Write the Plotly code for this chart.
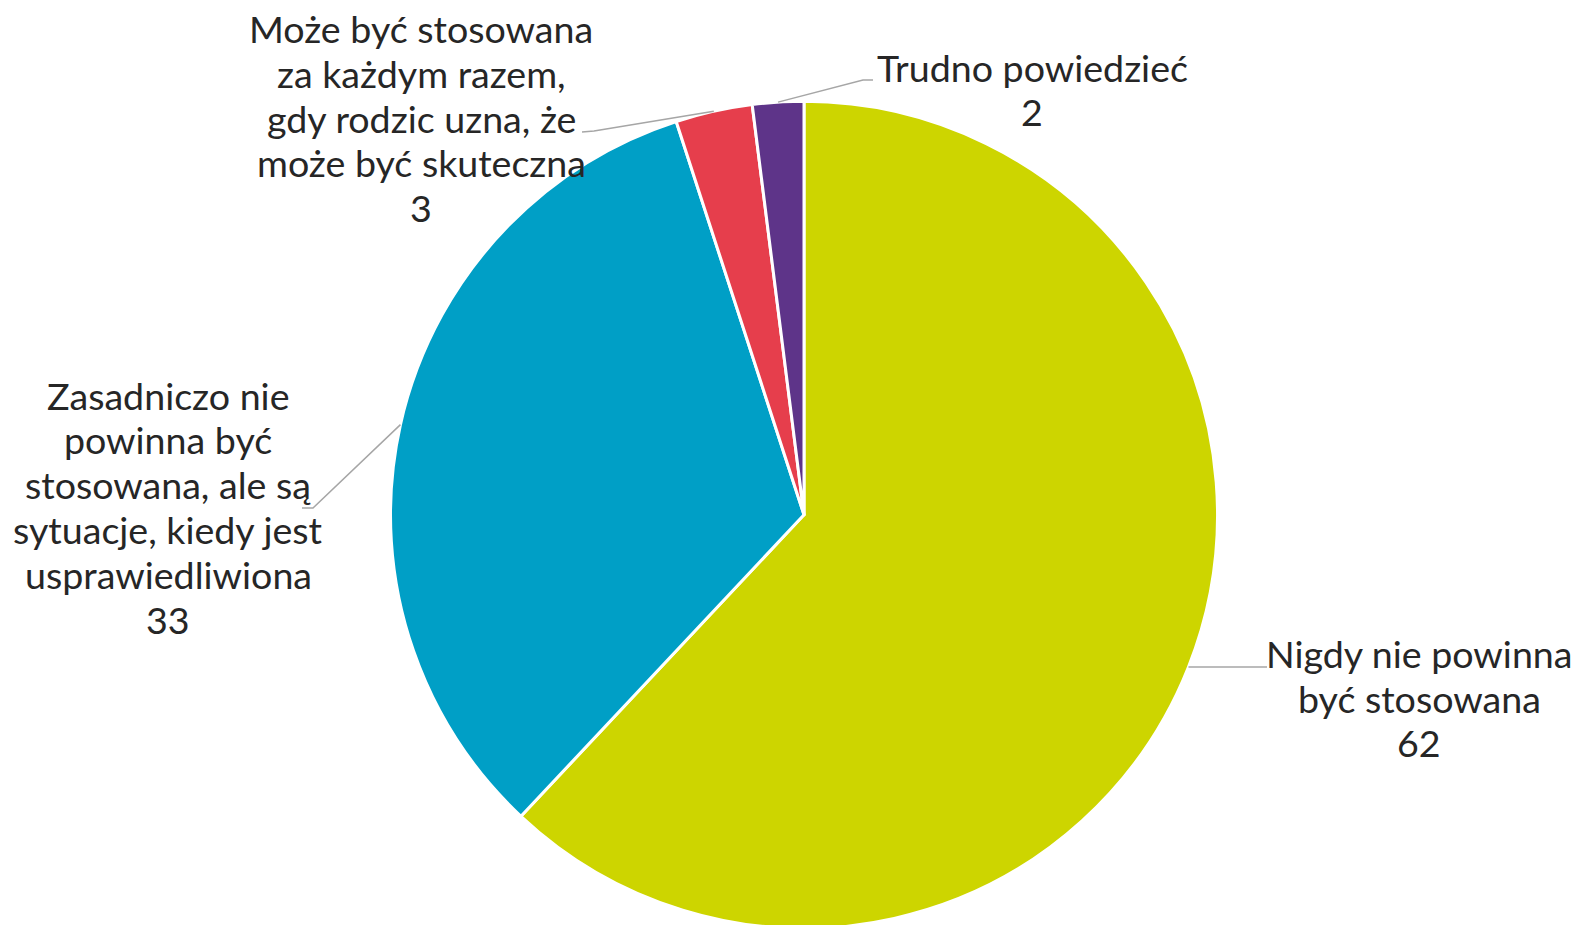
import math
import plotly.graph_objects as go

# ---- data ----
categories = [
    ["Nigdy nie powinna", "być stosowana"],
    ["Zasadniczo nie", "powinna być", "stosowana, ale są",
     "sytuacje, kiedy jest", "usprawiedliwiona"],
    ["Może być stosowana", "za każdym razem,", "gdy rodzic uzna, że",
     "może być skuteczna"],
    ["Trudno powiedzieć"],
]
values = [62, 33, 3, 2]
colors = ["#CDD500", "#009FC6", "#E63E4C", "#5E3489"]

# ---- layout constants (pixels) ----
W, H = 1578, 930          # page is slightly taller than the 925 px window
CX, CY, R = 804.0, 514.8, 413.5
LINE_H = 44.8
FONT_SIZE = 37.6
# label block centres and leader-line elbows (pixels)
label_pos = [(1419, 698), (168, 507), (421, 118), (1032, 89.5)]
elbows = [[(1267, 667), (1267, 667)],
          [(313, 508), (302, 508)],
          [(594, 131), (582, 132)],
          [(863, 80), (873, 80)]]

def px(x):
    return x / W

def py(y):
    return 1 - y / H

def clamp(v):
    return min(1.0, max(0.0, v))

fig = go.Figure()
fig.add_trace(go.Pie(
    labels=[" ".join(c) for c in categories],
    values=values,
    sort=False,
    direction="clockwise",
    rotation=0,
    marker=dict(colors=colors, line=dict(color="white", width=3)),
    textinfo="none",
    hoverinfo="label+value",
    showlegend=False,
    domain=dict(x=[clamp(px(CX - R)), clamp(px(CX + R))],
                y=[clamp(py(CY + R)), clamp(py(CY - R))]),
))

total = sum(values)
cum = 0
shapes = []
annotations = []
for i, v in enumerate(values):
    mid = (cum + v / 2) / total * 2 * math.pi
    cum += v
    sx = CX + R * math.sin(mid)
    sy = CY - R * math.cos(mid)
    (ex, ey), (hx, hy) = elbows[i]
    path = f"M {px(sx)},{py(sy)} L {px(ex)},{py(ey)} L {px(hx)},{py(hy)}"
    shapes.append(dict(type="path", path=path, xref="paper", yref="paper",
                       line=dict(color="#A6A6A6", width=1.5)))
    lines = categories[i] + [str(v)]
    lx, ly = label_pos[i]
    n = len(lines)
    for k, t in enumerate(lines):
        yk = ly + (k - (n - 1) / 2) * LINE_H
        annotations.append(dict(
            text=t, x=px(lx), y=py(yk),
            xref="paper", yref="paper", xanchor="center", yanchor="middle",
            showarrow=False, align="center",
            font=dict(family="Lato", size=FONT_SIZE, color="#262626"),
        ))

fig.update_layout(
    width=W, height=H,
    margin=dict(l=0, r=0, t=0, b=0),
    paper_bgcolor="white", plot_bgcolor="white",
    shapes=shapes, annotations=annotations,
)

fig.write_html(
    "out.html",
    config={"displayModeBar": False},
    post_script="document.body.style.margin='0';document.body.style.overflow='hidden';",
)
